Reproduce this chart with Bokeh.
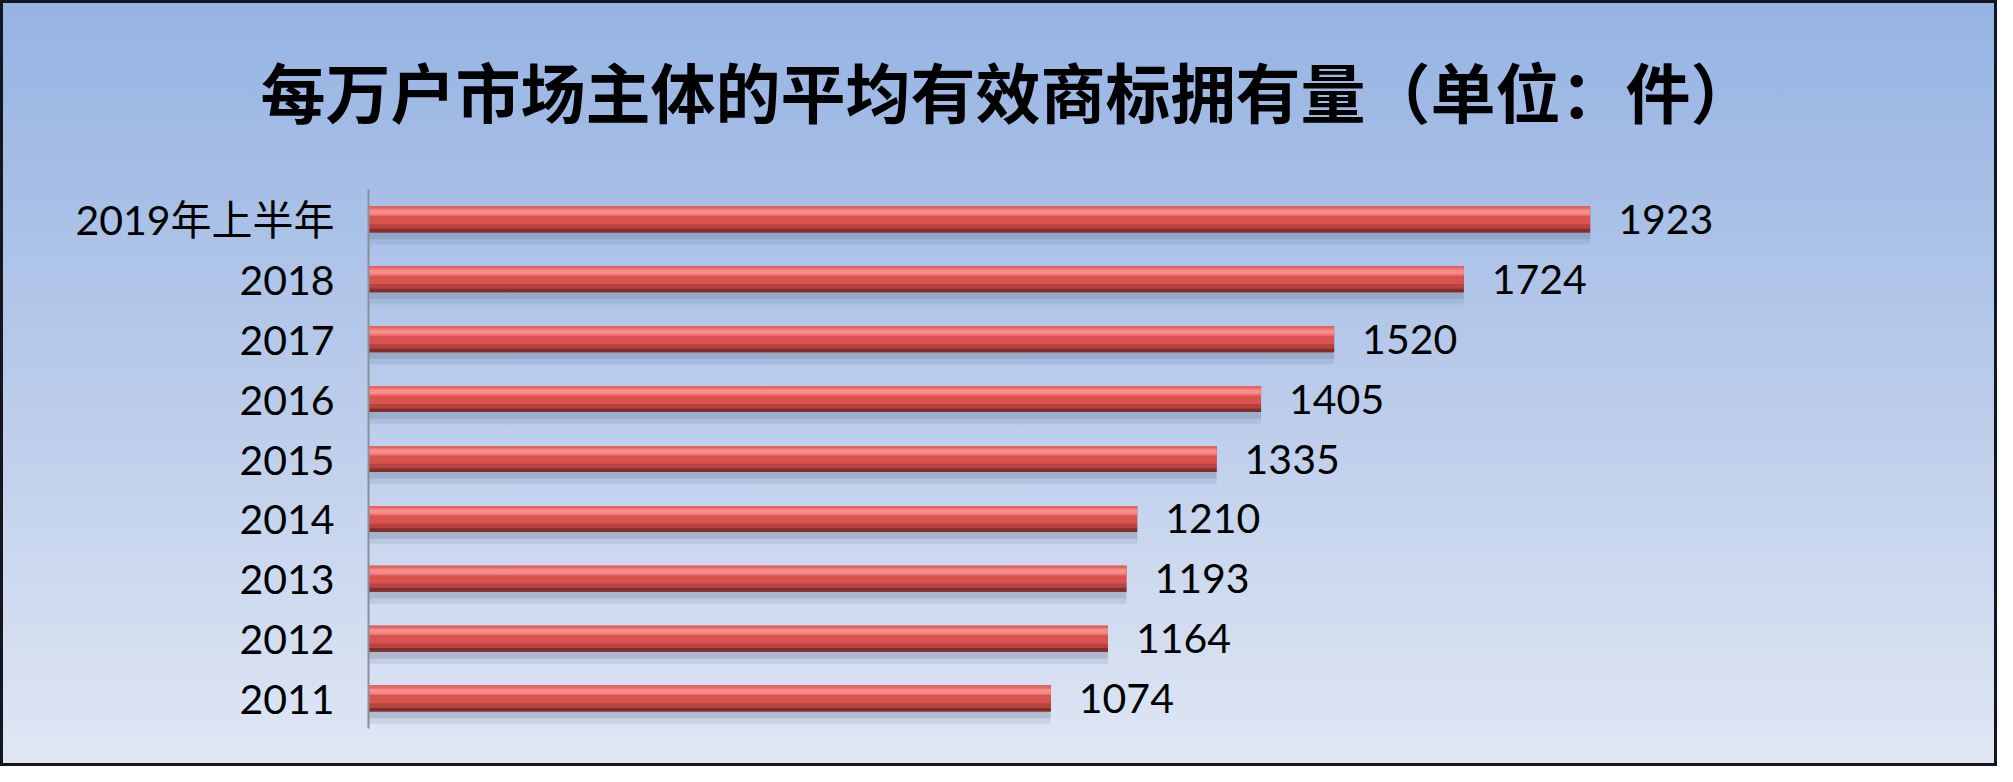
from bokeh.plotting import figure
from bokeh.models import Range1d, FactorRange, ColumnDataSource, Title
from bokeh.transform import dodge
from bokeh.core.properties import value
from bokeh.embed import file_html
from bokeh.resources import INLINE

# ---- data ----
categories = ["2011", "2012", "2013", "2014", "2015", "2016", "2017", "2018", "2019年上半年"]
values = [1074, 1164, 1193, 1210, 1335, 1405, 1520, 1724, 1923]
labels = [str(v) for v in values]
title_text = "每万户市场主体的平均有效商标拥有量（单位：件）"

src = ColumnDataSource(dict(cat=categories, val=values, lbl=labels))

p = figure(
    width=1997, height=766,
    y_range=FactorRange(*categories),
    x_range=Range1d(0, 2506),
    x_axis_location=None,
    output_backend="svg",
    toolbar_location=None,
    min_border_left=368, min_border_right=37,
    min_border_top=189, min_border_bottom=38,
)
p.title = None

p.background_fill_alpha = 0
p.border_fill_alpha = 0
p.outline_line_color = None
p.styles = {
    "background-image": "linear-gradient(to bottom, #95b3e3 0%, #b9cbea 50%, #e0e7f4 100%)",
    "box-shadow": "inset 0 0 0 3px #15151f",
}

p.xgrid.visible = False
p.ygrid.visible = False

# title, lifted by a blank spacer title between it and the plot frame
main_title = Title(text=title_text, align="left", offset=-108, standoff=0,
                   text_font="Noto Sans CJK SC", text_font_style="bold",
                   text_font_size="65px", text_color="#000000")
spacer = Title(text=" ", text_font_size="10px", standoff=40)
p.above = [spacer, main_title]

# y axis
ax = p.yaxis[0]
ax.axis_line_color = "#8a8f99"
ax.axis_line_width = 2
ax.major_tick_line_color = None
ax.minor_tick_line_color = None
ax.major_tick_out = 0
ax.major_tick_in = 0
ax.major_label_standoff = 34
ax.major_label_text_font = "Lato, 'Noto Sans CJK SC'"
ax.major_label_text_font_size = "41px"
ax.major_label_text_color = "#000000"

# shadow layers
p.hbar(y=dodge("cat", -0.27, range=p.y_range), left=0, right="val", height=0.30,
       source=src, fill_color="#4a5d80", fill_alpha=0.12, line_color=None)
p.hbar(y=dodge("cat", -0.24, range=p.y_range), left=0, right="val", height=0.18,
       source=src, fill_color="#4a5d80", fill_alpha=0.18, line_color=None)

# bar layers (cylinder look)
p.hbar(y="cat", left=0, right="val", height=0.434, source=src,
       fill_color="#a33c3a", line_color=None)
p.hbar(y=dodge("cat", -0.185, range=p.y_range), left=0, right="val", height=0.064,
       source=src, fill_color="#802e2c", line_color=None)
p.hbar(y=dodge("cat", -0.11, range=p.y_range), left=0, right="val", height=0.09,
       source=src, fill_color="#b8423f", line_color=None)
p.hbar(y=dodge("cat", 0.0685, range=p.y_range), left=0, right="val", height=0.297,
       source=src, fill_color="#d9534f", line_color=None)
p.hbar(y=dodge("cat", 0.125, range=p.y_range), left=0, right="val", height=0.13,
       source=src, fill_color="#ec7674", line_color=None)
p.hbar(y=dodge("cat", 0.125, range=p.y_range), left=0, right="val", height=0.07,
       source=src, fill_color="#f98d8b", line_color=None)
p.hbar(y=dodge("cat", 0.2, range=p.y_range), left=0, right="val", height=0.034,
       source=src, fill_color="#e06664", line_color=None)

# value labels
p.text(x="val", y="cat", text="lbl", source=src, x_offset=28,
       text_baseline="middle", text_align="left",
       text_font=value("Lato"), text_font_size="41px", text_color="#000000")

open("out.html", "w").write(file_html(p, INLINE))
